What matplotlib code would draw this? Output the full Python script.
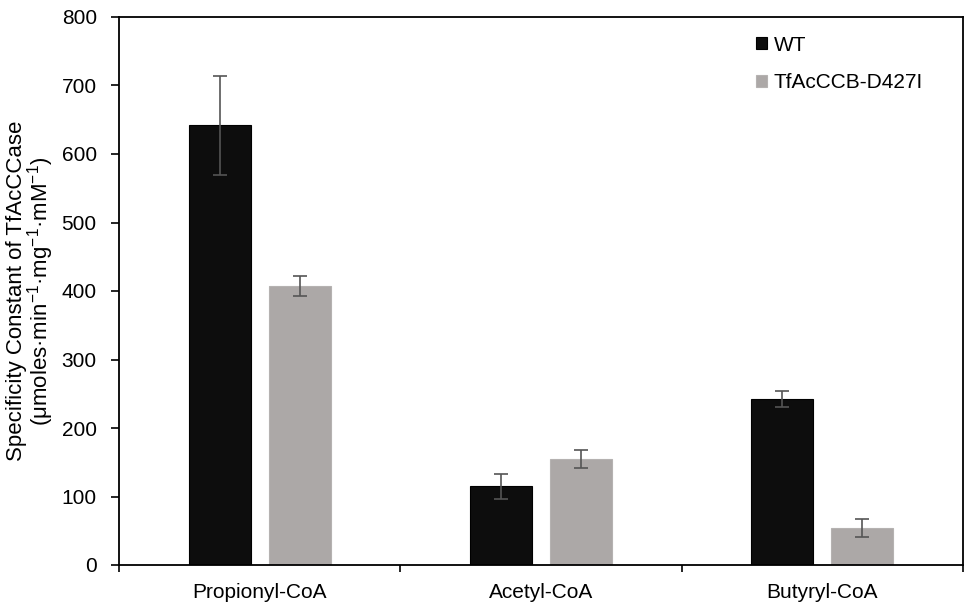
import matplotlib
matplotlib.use("Agg")
import matplotlib.pyplot as plt
import numpy as np
from matplotlib.ticker import FixedLocator

categories = ["Propionyl-CoA", "Acetyl-CoA", "Butyryl-CoA"]
wt_values = [642, 115, 242]
wt_errors = [72, 18, 12]
mut_values = [407, 155, 54]
mut_errors = [15, 13, 13]
series_names = ["WT", "TfAcCCB-D427I"]

plt.rcParams['font.family'] = ['Liberation Sans', 'DejaVu Sans']
plt.rcParams['mathtext.fontset'] = 'custom'
plt.rcParams['mathtext.rm'] = 'Liberation Sans'
plt.rcParams['mathtext.default'] = 'regular'

fig = plt.figure(figsize=(9.76, 6.13), dpi=100)
ax = fig.add_axes([119/976, 1-565/613, (963-119)/976, (565-17)/613])

x = np.arange(len(categories))
w = 0.22
off = 0.142
ecol = '#555555'
ax.bar(x - off, wt_values, w, color='#0d0d0d', edgecolor='#000000', linewidth=0.8,
       yerr=wt_errors, error_kw=dict(ecolor=ecol, elinewidth=1.2, capsize=5, capthick=1.2),
       label=series_names[0], zorder=2)
ax.bar(x + off, mut_values, w, color='#aca8a7', edgecolor='#b5b2b1', linewidth=0.8,
       yerr=mut_errors, error_kw=dict(ecolor=ecol, elinewidth=1.2, capsize=5, capthick=1.2),
       label=series_names[1], zorder=2)

ax.set_xlim(-0.5, 2.5)
ax.set_ylim(0, 800)
ax.set_yticks(np.arange(0, 801, 100))
ax.set_xticks(x)
ax.set_xticklabels(categories, fontsize=15)
ax.tick_params(axis='x', which='major', length=0, pad=13)
ax.xaxis.set_minor_locator(FixedLocator([-0.5, 0.5, 1.5, 2.5]))
ax.tick_params(axis='x', which='minor', length=5, width=1.2, direction='out')
ax.tick_params(axis='y', length=6, width=1.2, direction='out', labelsize=15, pad=10)
for s in ax.spines.values():
    s.set_linewidth(1.3)
    s.set_color('#000000')

ax.set_ylabel("Specificity Constant of TfAcCCase\n(μmoles·min$^{-1}$·mg$^{-1}$·mM$^{-1}$)",
              fontsize=16, linespacing=0.9, labelpad=4)

leg = ax.legend(loc='upper right', bbox_to_anchor=(0.975, 1.0), frameon=False, fontsize=15,
                handlelength=0.5, handleheight=0.5, handletextpad=0.35, labelspacing=0.9)

fig.savefig("out.png", dpi=100)
